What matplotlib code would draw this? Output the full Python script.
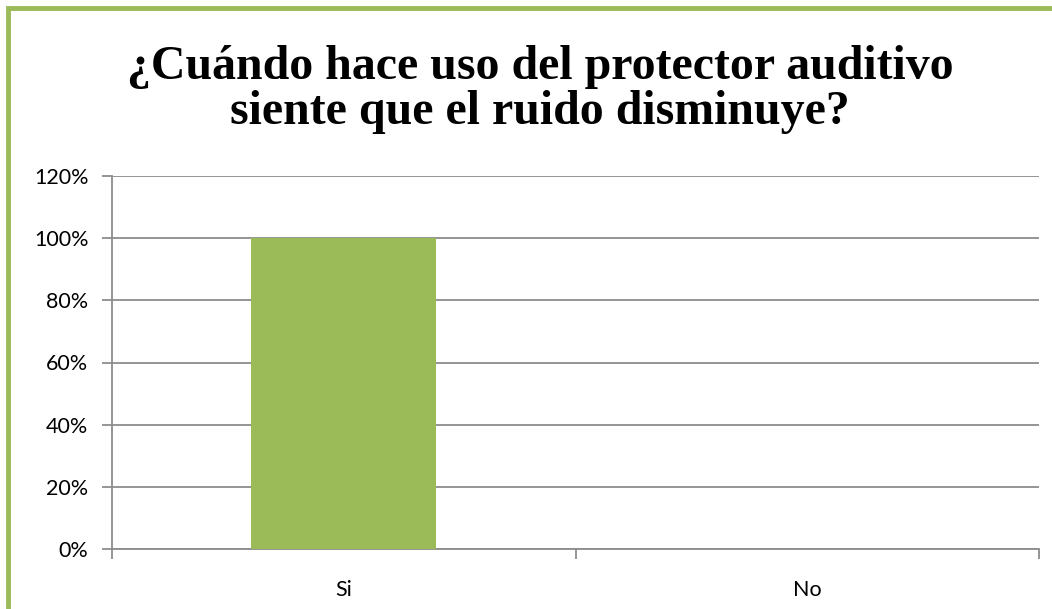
import numpy as np
import matplotlib
matplotlib.use('Agg')
import matplotlib.pyplot as plt
from matplotlib.patches import Rectangle
from matplotlib.ticker import FixedLocator, PercentFormatter

categories=['Si','No']
values=[100,0]
yticks=[0,20,40,60,80,100,120]

title='¿Cuándo hace uso del protector auditivo\nsiente que el ruido disminuye?'

green='#9BBB59'
grid='#8C8C8C'

fig=plt.figure(figsize=(10.52,6.09),dpi=100)
fig.patch.set_facecolor('white')

# only top and left edges of the chart frame are visible (picture is cropped)
fig.add_artist(Rectangle((8/1052,-0.1),1.2,(1-8/609)+0.1,transform=fig.transFigure,
                         fill=False,edgecolor=green,linewidth=3.5,clip_on=False))

ax=fig.add_axes([112/1052,1-549/609,927/1052,(549-176)/609])
x=np.arange(len(categories))
ax.bar(x,values,width=0.4,color=green,zorder=3)

ax.set_xlim(-0.5,1.5)
ax.set_ylim(0,120)
ax.set_yticks(yticks)
ax.yaxis.set_major_formatter(PercentFormatter(decimals=0))
ax.set_xticks(x)
ax.set_xticklabels(categories)
ax.xaxis.set_minor_locator(FixedLocator([-0.5,0.5,1.5]))

ax.grid(axis='y',color=grid,linewidth=1.3,zorder=0)
for s in ['top','right']:
    ax.spines[s].set_visible(False)
for s in ['left','bottom']:
    ax.spines[s].set_color(grid)
    ax.spines[s].set_linewidth(1.3)

tf=['Lato','DejaVu Sans']
ax.tick_params(axis='y',length=7,width=1.3,color=grid,pad=10,labelsize=15.5)
ax.tick_params(axis='x',which='major',length=0,pad=22,labelsize=15.5)
ax.tick_params(axis='x',which='minor',length=7,width=1.3,color=grid)
for lab in ax.get_xticklabels()+ax.get_yticklabels():
    lab.set_family(tf)

fig.text(540/1052,1-124/609,title,ha='center',va='baseline',fontsize=34.5,
         fontweight='bold',family=['Liberation Serif','DejaVu Serif'],linespacing=1.03,
         multialignment='center')

plt.savefig('out.png',dpi=100)
